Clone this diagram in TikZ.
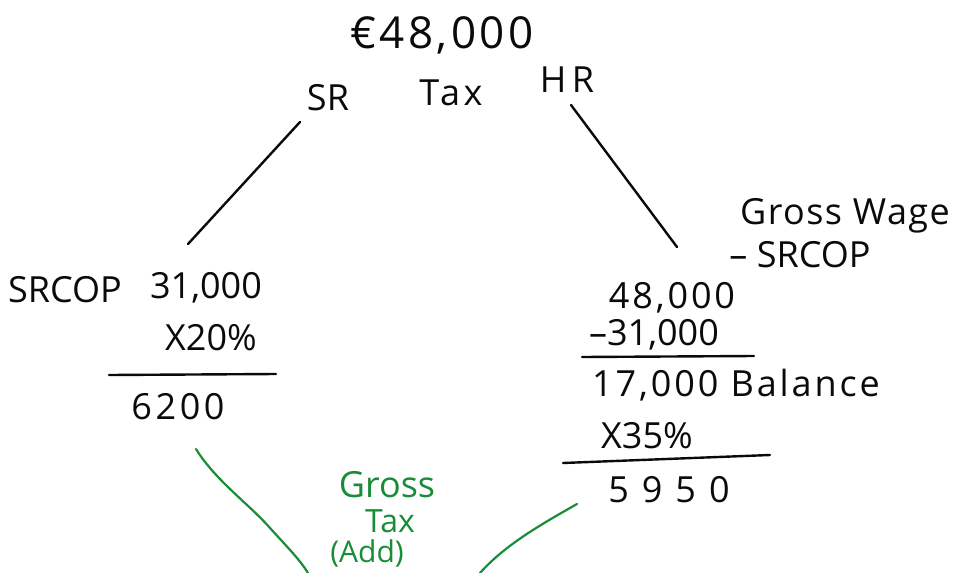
\documentclass[tikz,border=0pt]{standalone}
\usepackage{fontspec}
\setmainfont{Open Sans}
\definecolor{pen}{RGB}{10,10,10}
\definecolor{greenpen}{RGB}{25,140,55}
\tikzset{
  hw/.style={inner sep=0pt, text=pen, font=\fontsize{36}{40}\selectfont},
  ls/.style={font=\fontsize{36}{40}\selectfont\addfontfeature{LetterSpace=#1}},
  hwg/.style={hw, text=greenpen},
  stroke/.style={draw=pen, line width=2.4pt, line cap=round},
  gstroke/.style={draw=greenpen, line width=2.2pt, line cap=round, line join=round},
}
\begin{document}
\begin{tikzpicture}[x=1pt,y=-1pt]
\useasboundingbox (0,0) rectangle (956,573);
% top
\node[hw, font=\fontsize{44}{48}\selectfont\addfontfeature{LetterSpace=8}] (total) at (442,35) {€48,000};
\node[hw] (sr) at (328,98) {SR};
\node[hw, ls=10] (tax) at (451,93) {Tax};
\node[hw, ls=15] (hr) at (567,80) {HR};
% branches
\coordinate (srA) at (300,122);
\coordinate (srB) at (188,244);
\coordinate (hrA) at (571,105);
\coordinate (hrB) at (677,247);
\draw[stroke] (srA) -- (srB);
\draw[stroke] (hrA) -- (hrB);
% left calculation
\node[hw] (srcop) at (65,290) {SRCOP};
\node[hw] (v31) at (206,288) {31,000};
\node[hw] (x20) at (211,338) {X20\%};
\coordinate (l1a) at (109,375);
\coordinate (l1b) at (276,374);
\draw[stroke] (l1a) -- (l1b);
\node[hw, ls=10] (r6200) at (178,407) {6200};
% right calculation
\node[hw, ls=4] (gw) at (845,216) {Gross Wage};
\node[hw] (msr) at (800,255) {– SRCOP};
\node[hw, ls=8] (v48) at (672,298) {48,000};
\node[hw] (m31) at (654,335) {–31,000};
\coordinate (l2a) at (582,357);
\coordinate (l2b) at (754,356);
\draw[stroke] (l2a) -- (l2b);
\node[hw, ls=8] (bal) at (736,385) {17,000 Balance};
\node[hw] (x35) at (647,436) {X35\%};
\coordinate (l3a) at (563,463);
\coordinate (l3b) at (770,455);
\draw[stroke] (l3a) -- (l3b);
\node[hw, ls=36] (r5950) at (669,490) {5950};
% green
\node[hwg] (gross) at (387,485) {Gross};
\node[hwg, font=\fontsize{32}{36}\selectfont] (gtax) at (390,521) {Tax};
\node[hwg, font=\fontsize{30}{34}\selectfont] (add) at (367,553) {(Add)};
\coordinate (gl1) at (196,449);
\coordinate (gl2) at (308,573);
\coordinate (gr1) at (577,504);
\coordinate (gr2) at (480,573);
\draw[gstroke] (gl1) .. controls (215,480) and (250,505) .. (270,528) .. controls (290,550) and (300,560) .. (gl2);
\draw[gstroke] (gr1) .. controls (540,525) and (505,545) .. (gr2);
\end{tikzpicture}
\end{document}
